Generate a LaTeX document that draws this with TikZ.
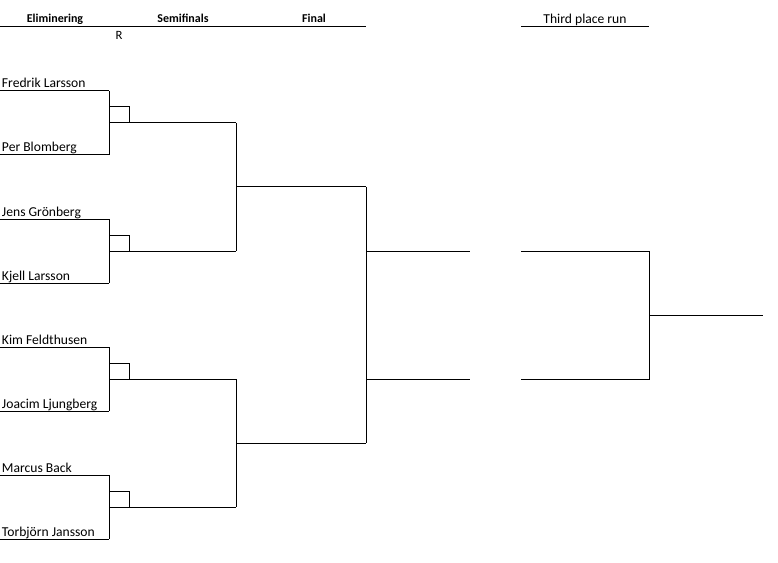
\documentclass[tikz,border=0pt]{standalone}
\usepackage{fontspec}
\setmainfont{Carlito}
\usepackage{tikz}

\begin{document}
\begin{tikzpicture}[x=0.75pt, y=-0.75pt, line width=0.75pt,
    player/.style={anchor=base west, inner sep=0pt, outer sep=0pt, font=\fontsize{10.2}{12}\selectfont},
    head/.style={anchor=base, inner sep=0pt, font=\fontsize{9}{11}\selectfont\bfseries}]
    \useasboundingbox (0,0) rectangle (778,563);

    % Label: round names above the bracket
    \node[head] (elim) at (55,23) {Eliminering};
    \node[head] (semi) at (183,23) {Semifinals};
    \node[head] (fin) at (314,23) {Final};
    \node[head, font=\fontsize{10.2}{12}\selectfont] (third) at (585,23.5) {Third place run};
    \node[head, font=\fontsize{9.5}{11}\selectfont] (rmark) at (119,40) {R};
    \draw (0,27) coordinate (hl) -- (366,27) coordinate (hr);
    \draw (521,27) coordinate (tl) -- (649,27) coordinate (tr);

    % players and their lines
    \foreach \name [count=\n] in {Fredrik Larsson, Per Blomberg, Jens Grönberg, Kjell Larsson,
        Kim Feldthusen, Joacim Ljungberg, Marcus Back, Torbjörn Jansson} {
      \pgfmathsetmacro{\y}{91+64*(\n-1)}
      \coordinate (s\n) at (0,\y);
      \coordinate (p\n) at (109,\y);
      \node[player] (n\n) at (2,\y-3) {\name};
      \draw (s\n) -- (p\n);
    }

    % first round: join, small box and line to the semifinals
    \foreach \m in {1,...,4} {
      \pgfmathtruncatemacro{\a}{2*\m-1}
      \pgfmathtruncatemacro{\b}{2*\m}
      \pgfmathsetmacro{\t}{91+128*(\m-1)}
      \coordinate (bx\m) at (109,\t+16);
      \coordinate (by\m) at (129,\t+32);
      \coordinate (o\m) at (109,\t+32);
      \coordinate (w\m) at (236,\t+32);
      \draw (p\a) -- (p\b);
      \draw (bx\m) -| (by\m);
      \draw (o\m) -- (w\m);
    }

    % semifinals
    \coordinate (f1) at (366,187);
    \coordinate (f2) at (366,443);
    \draw (w1) -- (w2);
    \draw (w3) -- (w4);
    \draw (w1 |- f1) -- (f1);
    \draw (w3 |- f2) -- (f2);

    % final
    \draw (f1) -- (f2);
    \coordinate (fa) at (366,251);
    \coordinate (fb) at (366,379);
    \coordinate (ea) at (470,251);
    \coordinate (eb) at (470,379);
    \draw (fa) -- (ea);
    \draw (fb) -- (eb);

    % third place run
    \coordinate (ta) at (521,251);
    \coordinate (tb) at (521,379);
    \coordinate (tc) at (649,251);
    \coordinate (td) at (649,379);
    \coordinate (tm) at (649,315);
    \coordinate (te) at (763,315);
    \draw (ta) -- (tc) -- (td) -- (tb);
    \draw (tm) -- (te);
\end{tikzpicture}
\end{document}
